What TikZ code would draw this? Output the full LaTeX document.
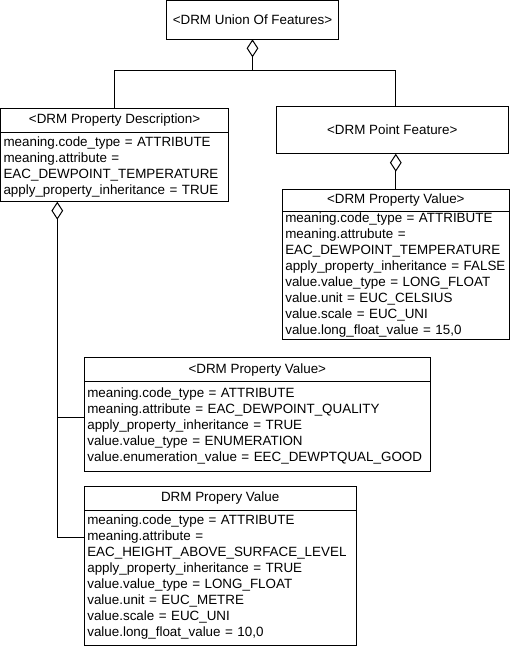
\documentclass[tikz,border=0pt]{standalone}
\usepackage{fontspec}
\setmainfont{Liberation Sans}
\usetikzlibrary{calc}
\usetikzlibrary{arrows.meta}

\begin{document}
\begin{tikzpicture}[x=1pt,y=-1pt,
  box/.style={draw, line width=1pt, inner sep=0pt, outer sep=0pt, font=\fontsize{13.4}{16}\selectfont},
  title/.style={box, minimum width=#1, minimum height=24pt},
  body/.style={box, anchor=north, text width=#1, inner xsep=3pt, align=left},
  agg/.style={line width=1pt, {Diamond[open,length=18pt,width=11.7pt]}-}]
\useasboundingbox (0,0) rectangle (517,646);

\node[title=171.6, minimum height=38.8] (union) at (252.5,19.9) {<DRM Union Of Features>};

\node[title=228.2] (pdTitle) at (114.6,120.3) {<DRM Property Description>};
\node[body=222.2, minimum height=69.4] (pdBody) at (pdTitle.south) {meaning.code\_type = ATTRIBUTE\\
meaning.attribute =\\
EAC\_DEWPOINT\_TEMPERATURE\\
apply\_property\_inheritance = TRUE};

\node[title=232, minimum height=47.7] (pf) at (392.3,129.85) {<DRM Point Feature>};

\node[title=227, minimum height=21.7] (pvTitle) at (395.8,200.15) {<DRM Property Value>};
\node[body=221, minimum height=128.3] (pvBody) at (pvTitle.south) {meaning.code\_type = ATTRIBUTE\\
meaning.attrubute =\\
EAC\_DEWPOINT\_TEMPERATURE\\
apply\_property\_inheritance = FALSE\\
value.value\_type = LONG\_FLOAT\\
value.unit = EUC\_CELSIUS\\
value.scale = EUC\_UNI\\
value.long\_float\_value = 15,0};

\node[title=346, minimum height=24.2] (mvTitle) at (257.3,369.6) {<DRM Property Value>};
\node[body=340, minimum height=89.3] (mvBody) at (mvTitle.south) {meaning.code\_type = ATTRIBUTE\\
meaning.attribute = EAC\_DEWPOINT\_QUALITY\\
apply\_property\_inheritance = TRUE\\
value.value\_type = ENUMERATION\\
value.enumeration\_value = EEC\_DEWPTQUAL\_GOOD};

\node[title=271.7] (bbTitle) at (220.15,498) {DRM Propery Value};
\node[body=265.7, minimum height=135] (bbBody) at (bbTitle.south) {meaning.code\_type = ATTRIBUTE\\
meaning.attribute =\\
EAC\_HEIGHT\_ABOVE\_SURFACE\_LEVEL\\
apply\_property\_inheritance = TRUE\\
value.value\_type = LONG\_FLOAT\\
value.unit = EUC\_METRE\\
value.scale = EUC\_UNI\\
value.long\_float\_value = 10,0};

% aggregations
\coordinate (fork) at (252.5,70.7);
\draw[agg] (union.south) -- (fork);
\draw[line width=1pt] (pdTitle.north) |- (fork) -| (pvTitle.north |- pf.north);
\draw[agg] (pvTitle.north |- pf.south) -- (pvTitle.north);

\coordinate (pdHook) at ($(pdBody.south west)+(56.8,0)$);
\coordinate (midLink) at ($(mvBody.north west)+(0,36)$);
\coordinate (botLink) at ($(bbBody.north west)+(0,27.7)$);
\draw[agg] (pdHook) |- (botLink);
\draw[line width=1pt] (pdHook |- midLink) -- (midLink);

\end{tikzpicture}
\end{document}
